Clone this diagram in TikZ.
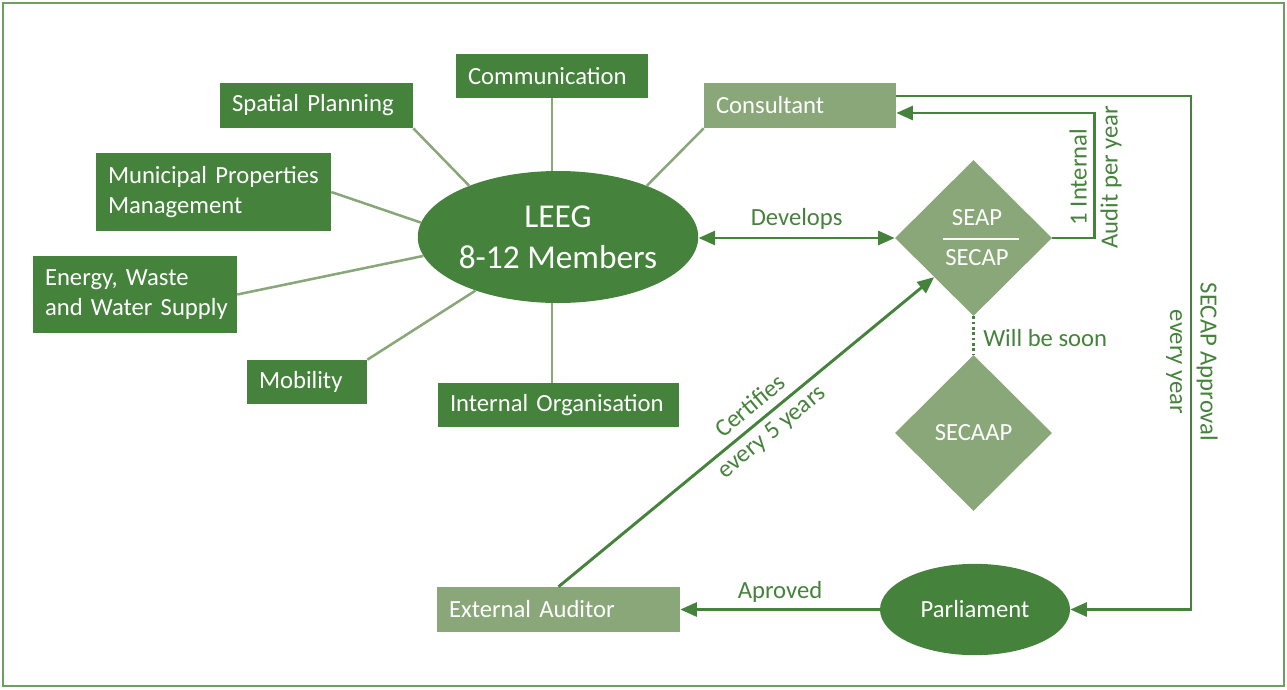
\documentclass[tikz,border=0pt]{standalone}
\usepackage{fontspec}
\setmainfont{Carlito}
\usetikzlibrary{shapes.geometric,arrows.meta,calc}
\definecolor{dg}{HTML}{45823B}
\definecolor{lg}{HTML}{89A778}
\definecolor{frame}{HTML}{6E9E62}
\begin{document}
\begin{tikzpicture}[x=0.75pt,y=-0.75pt,
  txt/.style={font=\fontsize{18.5}{22.5}\selectfont},
  dbox/.style={txt,fill=dg,text=white,inner ysep=0pt,inner xsep=9pt,align=left,anchor=center},
  lbox/.style={dbox,fill=lg},
  spoke/.style={draw=lg,line width=1.9pt},
  tip/.style={-{Triangle[length=12.5pt,width=10.5pt]}},
  arr/.style={draw=dg,line width=2.2pt,tip},
  lab/.style={txt,text=dg,inner sep=0pt,align=center}]
\useasboundingbox (0,0) rectangle (1287,689);
\draw[draw=frame,line width=1.2pt] (3,3) rectangle (1284,686);

% boxes
\node[dbox,text width={(192-24)*0.75pt},minimum height=33pt] (comm) at (552,76) {Communication};
\node[dbox,text width={(193-24)*0.75pt},minimum height=33.75pt] (spat) at (316.5,105.5) {Spatial Planning};
\node[dbox,text width={(235-24)*0.75pt},minimum height=58.5pt] (muni) at (213.5,192) {\mbox{Municipal Properties}\\Management};
\node[dbox,text width={(204-24)*0.75pt},minimum height=57.75pt] (ener) at (135,294.5) {\mbox{Energy, Waste}\\\mbox{and Water Supply}};
\node[dbox,text width={(120-24)*0.75pt},minimum height=33pt] (mobi) at (307,382) {Mobility};
\node[dbox,text width={(241-24)*0.75pt},minimum height=33pt] (inor) at (558.5,405) {Internal Organisation};
\node[lbox,text width={(192-24)*0.75pt},minimum height=33.75pt] (cons) at (800,105.5) {Consultant};
\node[lbox,text width={(243-24)*0.75pt},minimum height=33.75pt] (exta) at (558.5,609.5) {External Auditor};

% ellipses
\node[ellipse,fill=dg,text=white,minimum width=199.5pt,minimum height=99pt,inner sep=0pt,align=center,
      font=\fontsize{25}{31}\selectfont] (leeg) at (558,237) {LEEG\\8-12 Members};
\node[ellipse,fill=dg,text=white,minimum width=142.5pt,minimum height=68.5pt,inner sep=0pt,txt] (parl) at (975,609.5) {Parliament};

% diamonds
\node[diamond,fill=lg,minimum width=117.75pt,minimum height=117pt,inner sep=0pt] (seap) at (973.5,238) {};
\node[txt,text=white,inner sep=0pt] (seapt) at (977,218) {SEAP};
\node[txt,text=white,inner sep=0pt] (secapt) at (977,258) {SECAP};
\draw[white,line width=1.5pt] ($(seap.center)+(-31,1)$) coordinate (sl) -- ($(seap.center)+(45,1)$) coordinate (sr);
\node[diamond,fill=lg,minimum width=117.75pt,minimum height=117pt,inner sep=0pt] (secaap) at (973.5,433) {};
\node[txt,text=white,inner sep=0pt] (secaapt) at (secaap.center) {SECAAP};

% spokes
\draw[spoke] (comm.south) -- (comm.south |- leeg.north);
\draw[spoke] (spat.south east) -- (leeg.150);
\draw[spoke] (muni.east) -- (leeg.174);
\draw[spoke] (ener.east) -- (leeg.188);
\draw[spoke] (mobi.north east) -- (leeg.213);
\draw[spoke] (leeg.south -| comm.south) -- (inor.north -| comm.south);
\draw[spoke] (cons.south west) -- (leeg.30);

% arrows
\draw[arr,{Triangle[length=12.5pt,width=10.5pt]}-{Triangle[length=12.5pt,width=10.5pt]}] (leeg.east |- seap.west) -- (seap.west)
  node[lab,midway,above=5pt] (dev) {Develops};
\draw[arr] (seap.east) -- ++(42,0) coordinate (ib) |- ($(cons.east)+(0,7.5)$);
\node[lab,rotate=90,font=\fontsize{18.5}{23.2}\selectfont] (intl) at (1095.5,177) {1 Internal\\Audit per year};
\draw[arr] ($(cons.east)+(0,-9.5)$) -- (1191,96) coordinate (ob) |- (parl.east);
\node[lab,rotate=-90,font=\fontsize{18.5}{22.8}\selectfont] (appl) at (1192,362) {SECAP Approval\\every year};
\draw[arr] (parl.west) -- (exta.east) node[lab,midway,above=4.5pt] (apr) {Aproved};
\draw[arr] (exta.north) -- (seap.south west)
  node[lab,pos=0.54,sloped,font=\fontsize{18.5}{24.6}\selectfont] (cert) {Certifies\\every 5 years};
\draw[dg,line width=2pt,dotted] (seap.south) -- (secaap.north);
\node[lab,anchor=west] (soon) at (983,338) {Will be soon};
\end{tikzpicture}
\end{document}
